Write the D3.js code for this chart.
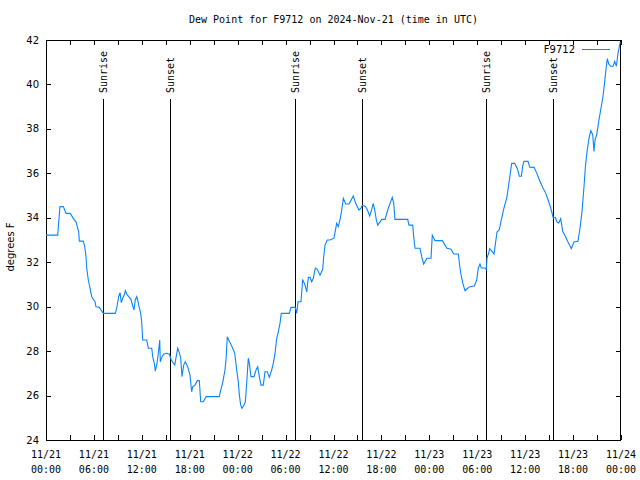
<!DOCTYPE html>
<html><head><meta charset="utf-8">
<script src="https://cdn.jsdelivr.net/npm/d3@7"></script>
<style>
html,body{margin:0;padding:0;background:#fff;}
svg{display:block;}
</style></head>
<body>
<script>
// ---- data ----
const startUTC = "2024-11-21T00:00:00Z";
const endUTC = "2024-11-24T00:00:00Z";
const hoursUTC = [0,1.47,1.59,1.75,2.17,2.34,2.50,3.01,3.17,3.51,3.76,3.92,4.09,4.17,4.67,4.85,5.01,5.10,5.30,5.51,5.72,5.92,6.14,6.26,6.67,6.89,7.18,8.68,8.85,9.10,9.27,9.43,9.60,9.85,9.93,10.11,10.36,10.64,10.86,11.02,11.18,11.36,11.48,11.65,11.86,11.98,12.11,12.61,12.81,13.24,13.36,13.56,13.69,13.90,14.11,14.24,14.31,14.53,14.74,15.03,15.44,15.69,16.12,16.49,16.69,16.87,17.03,17.24,17.44,17.74,18.03,
18.24,18.37,18.66,18.95,19.20,19.37,19.70,20.04,21.70,21.88,22.13,22.41,22.54,22.70,22.88,23.13,23.38,23.63,23.88,24.08,24.21,24.38,24.54,24.79,24.96,25.13,25.33,25.46,25.67,26.05,26.30,26.51,26.71,26.92,27.21,27.42,27.71,27.96,28.26,28.46,28.68,28.89,29.09,29.30,29.46,30.47,30.68,31.22,31.39,31.56,31.93,32.14,32.43,32.65,32.85,33.06,33.27,33.47,33.72,33.97,34.31,34.65,34.77,34.94,35.22,35.56,36.06,
36.40,36.60,36.81,37.03,37.23,37.53,37.94,38.48,38.78,39.19,39.44,39.61,40.03,40.28,40.53,40.70,40.98,41.20,41.36,41.54,42.04,42.45,42.79,43.08,43.36,43.54,43.70,45.29,45.45,45.92,46.04,46.21,46.83,47.04,47.29,47.71,48.21,48.37,48.71,49.62,49.96,50.21,50.71,51.05,51.63,51.84,52.05,52.25,52.47,52.80,53.09,53.63,53.93,54.13,54.34,
54.51,54.93,55.13,55.22,55.43,55.56,55.85,56.10,56.26,56.47,56.76,57.01,57.35,57.69,57.94,58.14,58.31,58.69,59.02,59.27,59.52,59.69,59.85,60.36,60.57,61.11,61.45,61.82,62.23,62.57,62.86,63.20,63.52,63.77,63.99,64.20,64.45,64.70,65.03,65.36,65.78,66.11,66.61,66.87,67.12,67.37,67.53,67.75,67.96,68.21,68.46,68.62,68.75,68.96,69.21,69.46,69.75,69.96,70.16,70.29,70.46,70.71,71.00,71.21,71.42,71.63,71.84,71.92];
const dewPointF = [33.22,33.22,33.82,34.50,34.50,34.35,34.20,34.20,34.12,33.93,33.82,33.60,33.37,32.95,32.95,32.70,32.25,31.73,31.20,30.83,30.45,30.33,30.22,30.00,29.97,29.85,29.70,29.70,29.93,30.45,30.63,30.18,30.38,30.57,30.72,30.57,30.45,30.33,30.03,29.85,30.30,30.45,30.30,30.00,29.70,29.32,28.50,28.50,28.13,28.13,27.75,27.45,27.10,27.45,28.05,28.50,27.52,27.75,27.86,27.90,27.87,27.60,27.37,28.13,27.93,27.68,26.85,27.37,27.52,27.30,26.92,
26.17,26.40,26.47,26.67,26.67,25.72,25.72,25.95,25.95,26.25,26.58,27.15,27.60,28.65,28.50,28.32,28.13,27.90,27.15,26.62,26.02,25.57,25.43,25.57,25.72,26.55,27.68,27.45,26.85,26.85,27.15,27.30,26.85,26.47,26.47,27.07,27.07,26.82,27.15,27.45,27.90,28.58,28.87,29.25,29.70,29.70,29.97,29.97,29.70,30.22,30.22,31.23,30.97,30.67,31.32,31.32,31.12,31.28,31.73,31.68,31.42,31.68,32.25,32.77,33.00,33.00,33.08,
33.75,33.60,33.90,34.35,34.88,34.62,34.62,34.98,34.65,34.35,34.43,34.57,34.50,34.32,34.08,34.27,34.65,34.27,33.90,33.67,33.93,33.93,34.35,34.65,34.92,34.65,33.93,33.93,33.67,33.67,33.15,32.63,32.63,32.25,31.92,32.18,32.18,33.22,32.97,32.97,32.77,32.63,32.58,32.37,32.37,31.73,31.28,30.97,30.72,30.83,30.90,30.93,31.20,31.73,31.92,
31.74,31.74,31.66,32.19,32.41,32.61,32.49,32.37,32.79,33.36,33.46,33.91,34.44,34.89,35.49,36.01,36.45,36.45,36.21,35.87,35.87,36.32,36.54,36.54,36.28,36.27,36.01,35.67,35.34,35.11,34.81,34.44,33.99,34.02,33.81,33.77,33.96,33.39,33.17,32.91,32.61,32.91,32.94,33.54,34.29,35.42,36.24,36.99,37.51,37.92,37.74,36.99,37.51,37.74,38.34,38.86,39.47,40.14,40.82,41.16,40.92,40.82,40.82,41.04,40.82,41.41,41.79,41.90];
const sunriseUTC = ["2024-11-21T07:11Z","2024-11-22T07:13Z","2024-11-23T07:08Z"];
const sunsetUTC  = ["2024-11-21T15:34Z","2024-11-22T15:37Z","2024-11-23T15:31Z"];
const yTicks = [24,26,28,30,32,34,36,38,40,42];
const stationName = "F9712";
const titleText = "Dew Point for F9712 on 2024-Nov-21 (time in UTC)";
const yLabel = "degrees F";

// ---- drawing ----
const W = 640, H = 480;
const L = 46, R = 621, T = 40, B = 440;
const mono = "'DejaVu Sans Mono', monospace";
const sans = "'DejaVu Sans', 'Liberation Sans', sans-serif";
const lineColor = "#0a84ff";

const svg = d3.select("body").append("svg").attr("width", W).attr("height", H);
const t0 = new Date(startUTC), t1 = new Date(endUTC);
const x = d3.scaleUtc().domain([t0, t1]).range([L, R]);
const y = d3.scaleLinear().domain([24, 42]).range([B, T]);

const data = hoursUTC.map((h, i) => ({t: new Date(t0.getTime() + h * 3600e3), v: dewPointF[i]}));

// title
svg.append("text").attr("x", (L + R) / 2).attr("y", 23).attr("text-anchor", "middle")
  .attr("font-family", mono).attr("font-size", 10).text(titleText);

// axes
const majorX = d3.utcHour.every(6).range(t0, new Date(t1.getTime() + 1));
const minorX = d3.utcHour.every(3).range(t0, new Date(t1.getTime() + 1));
const fmtD = d3.utcFormat("%m/%d"), fmtT = d3.utcFormat("%H:%M");

const gx = svg.append("g").attr("transform", `translate(0,${B})`)
  .call(d3.axisBottom(x).tickValues(minorX).tickSize(-5).tickFormat(""));
const gxt = svg.append("g").attr("transform", `translate(0,${T})`)
  .call(d3.axisTop(x).tickValues(minorX).tickSize(-5).tickFormat(""));
const gy = svg.append("g").attr("transform", `translate(${L},0)`)
  .call(d3.axisLeft(y).tickValues(yTicks).tickSize(-5).tickFormat(""));
const gyr = svg.append("g").attr("transform", `translate(${R},0)`)
  .call(d3.axisRight(y).tickValues(yTicks).tickSize(-5).tickFormat(""));
[gx, gxt, gy, gyr].forEach(g => {
  g.select(".domain").remove();
  g.selectAll("line").attr("stroke", "#000").attr("shape-rendering", "crispEdges");
});

// frame
svg.append("rect").attr("x", L + 0.5).attr("y", T + 0.5).attr("width", R - L - 1).attr("height", B - T)
  .attr("fill", "none").attr("stroke", "#000").attr("shape-rendering", "crispEdges");

// x tick labels
const xl = svg.append("g").attr("font-family", mono).attr("font-size", 10).attr("text-anchor", "middle");
majorX.forEach(d => {
  const tx = xl.append("text").attr("x", x(d)).attr("y", 458);
  tx.append("tspan").attr("x", x(d)).attr("y", 458).text(fmtD(d));
  tx.append("tspan").attr("x", x(d)).attr("y", 473).text(fmtT(d));
});

// y tick labels
const yl = svg.append("g").attr("font-family", sans).attr("font-size", 10).attr("text-anchor", "end");
yTicks.forEach(v => {
  yl.append("text").attr("x", 39).attr("y", y(v)).attr("dy", "0.35em").text(v);
});

// y label
svg.append("text").attr("transform", `translate(14,247) rotate(-90)`).attr("text-anchor", "middle")
  .attr("font-family", sans).attr("font-size", 10).text(yLabel);

// sunrise / sunset lines
const events = sunriseUTC.map(s => ({t: new Date(s), label: "Sunrise"}))
  .concat(sunsetUTC.map(s => ({t: new Date(s), label: "Sunset"})));
events.forEach(e => {
  const px = Math.round(x(e.t)) + 0.5;
  svg.append("line").attr("x1", px).attr("x2", px).attr("y1", 99).attr("y2", B)
    .attr("stroke", "#000").attr("stroke-width", 1).attr("shape-rendering", "crispEdges");
  svg.append("text").attr("transform", `translate(${px},93) rotate(-90)`).attr("dy", "0.35em")
    .attr("font-family", mono).attr("font-size", 10).text(e.label);
});

// data line
svg.append("path").datum(data)
  .attr("d", d3.line().x(d => x(d.t)).y(d => y(d.v)))
  .attr("fill", "none").attr("stroke", lineColor).attr("stroke-width", 1.1);

// legend
svg.append("text").attr("x", 575).attr("y", 49).attr("dy", "0.35em").attr("text-anchor", "end")
  .attr("font-family", sans).attr("font-size", 10).text(stationName);
svg.append("line").attr("x1", 582).attr("x2", 610).attr("y1", 49.5).attr("y2", 49.5)
  .attr("stroke", lineColor).attr("stroke-width", 1);
</script>
</body></html>
